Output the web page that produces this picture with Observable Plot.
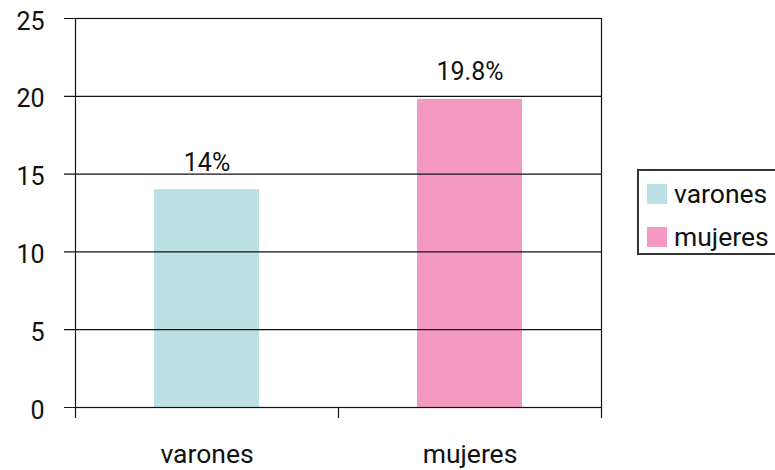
<!DOCTYPE html>
<html>
<head>
<meta charset="utf-8">
<script src="https://cdn.jsdelivr.net/npm/d3@7"></script>
<script src="https://cdn.jsdelivr.net/npm/@observablehq/plot@0.6"></script>
<style>
  html, body { margin: 0; padding: 0; background: #fff; overflow: hidden; }
  #wrap { position: relative; width: 775px; height: 470px; font-family: Roboto, "DejaVu Sans", sans-serif; }
  #legend { position: absolute; left: 637px; top: 169px; width: 150px; height: 86px; border: 2px solid #333; box-sizing: border-box; background: #fff; }
  .item { position: absolute; left: 8px; display: flex; align-items: center; font-size: 26.5px; color: #111; line-height: 20px; }
  .sw { width: 20px; height: 20px; margin-right: 7px; }
</style>
</head>
<body>
<div id="wrap"></div>
<script>
const categories = ["varones", "mujeres"];
const values = [14, 19.8];
const colors = ["#bde0e4", "#f49ac2"];
const yTicks = [0, 5, 10, 15, 20, 25];

const data = categories.map((c, i) => ({cat: c, value: values[i], color: colors[i]}));

const W = 775, H = 470;
const mL = 75, mR = 174, mT = 18, mB = 63;
const step = (W - mL - mR) / categories.length;

const chart = Plot.plot({
  width: W,
  height: H,
  marginLeft: mL,
  marginRight: mR,
  marginTop: mT,
  marginBottom: mB,
  style: {fontFamily: "Roboto, 'DejaVu Sans', sans-serif", fontSize: "25px", color: "#111", background: "#fff", overflow: "visible"},
  x: {domain: categories, paddingInner: 0.6, paddingOuter: 0.3, axis: null},
  y: {domain: [0, 25], axis: null},
  marks: [
    Plot.barY(data, {x: "cat", y: "value", fill: "color"}),
    Plot.ruleY(yTicks, {y: d => d, stroke: "#111", strokeWidth: 1.2, insetLeft: -11}),
    Plot.frame({stroke: "#111", strokeWidth: 1.2}),
    Plot.ruleX(categories, {x: d => d, dx: -step / 2, y1: 0, y2: 0, insetBottom: -11, stroke: "#111", strokeWidth: 1.2}),
    Plot.ruleX(categories.slice(-1), {x: d => d, dx: step / 2, y1: 0, y2: 0, insetBottom: -11, stroke: "#111", strokeWidth: 1.2}),
    Plot.text(yTicks, {frameAnchor: "left", y: d => d, text: d => String(d), textAnchor: "end", dx: -31, dy: 3, fill: "#111", fontSize: 25}),
    Plot.text(data, {x: "cat", y: "value", text: d => `${d.value}%`, dy: -27, fill: "#111", fontSize: 25}),
    Plot.text(categories, {x: d => d, y: () => 0, text: d => d, dy: 47, fill: "#111", fontSize: 26.5})
  ]
});
document.getElementById("wrap").appendChild(chart);

const legend = document.createElement("div");
legend.id = "legend";
data.forEach((d, i) => {
  const item = document.createElement("div");
  item.className = "item";
  item.style.top = (i === 0 ? 13 : 56) + "px";
  const sw = document.createElement("span");
  sw.className = "sw";
  sw.style.background = d.color;
  const t = document.createElement("span");
  t.textContent = d.cat;
  item.appendChild(sw);
  item.appendChild(t);
  legend.appendChild(item);
});
document.getElementById("wrap").appendChild(legend);
</script>
</body>
</html>
